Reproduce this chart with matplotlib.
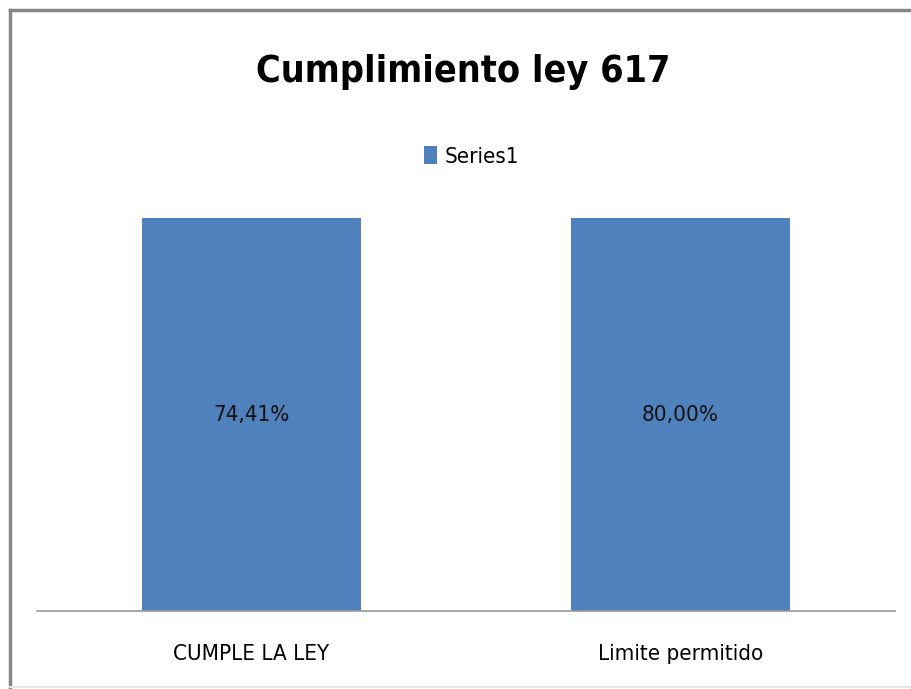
import matplotlib.pyplot as plt
from matplotlib.lines import Line2D

plt.rcParams['font.family'] = ['DejaVu Sans']
plt.rcParams['font.stretch'] = 'condensed'

categories = ['CUMPLE LA LEY', 'Limite permitido']
values = [74.41, 80.00]
labels = ['74,41%', '80,00%']
series_name = 'Series1'
bar_color = '#4f81bd'


def main():
    fig = plt.figure(figsize=(9.12, 6.89), dpi=100)
    ax = fig.add_axes([0.0406, 0.1132, 0.9404, 0.5704])

    x = list(range(len(categories)))
    ax.bar(x, values, width=0.51, color=bar_color, label=series_name)
    # excel axis max sits below both values, so the bars are clipped
    top = 70
    ax.set_ylim(0, top)
    ax.set_xlim(-0.5, len(categories) - 0.5)
    for xi, lab in zip(x, labels):
        ax.text(xi, top / 2, lab, ha='center', va='center', fontsize=16, color='#111111')

    ax.set_xticks(x)
    ax.set_xticklabels(categories, fontsize=16)
    ax.tick_params(axis='x', length=0, pad=24)
    ax.set_yticks([])
    for s in ['top', 'left', 'right']:
        ax.spines[s].set_visible(False)
    ax.spines['bottom'].set_color('#999999')
    ax.spines['bottom'].set_linewidth(1.2)

    fig.text(0.508, 0.895, 'Cumplimiento ley 617', ha='center', va='center',
             fontsize=27, fontweight='bold')
    fig.legend(loc='center', bbox_to_anchor=(0.517, 0.773), frameon=False,
               fontsize=16, handlelength=0.6, handleheight=0.9, handletextpad=0.35)

    # chart frame: dark left/top, faint bottom
    tf = fig.transFigure
    fig.lines.append(Line2D([0.011, 0.011], [0.003, 0.986], transform=tf,
                            color='#868686', linewidth=2.5))
    fig.lines.append(Line2D([0.011, 1.0], [0.986, 0.986], transform=tf,
                            color='#868686', linewidth=2.5))
    fig.lines.append(Line2D([0.011, 1.0], [0.003, 0.003], transform=tf,
                            color='#e6e6e6', linewidth=1.5))

    fig.savefig('out.png')


if __name__ == '__main__':
    main()
